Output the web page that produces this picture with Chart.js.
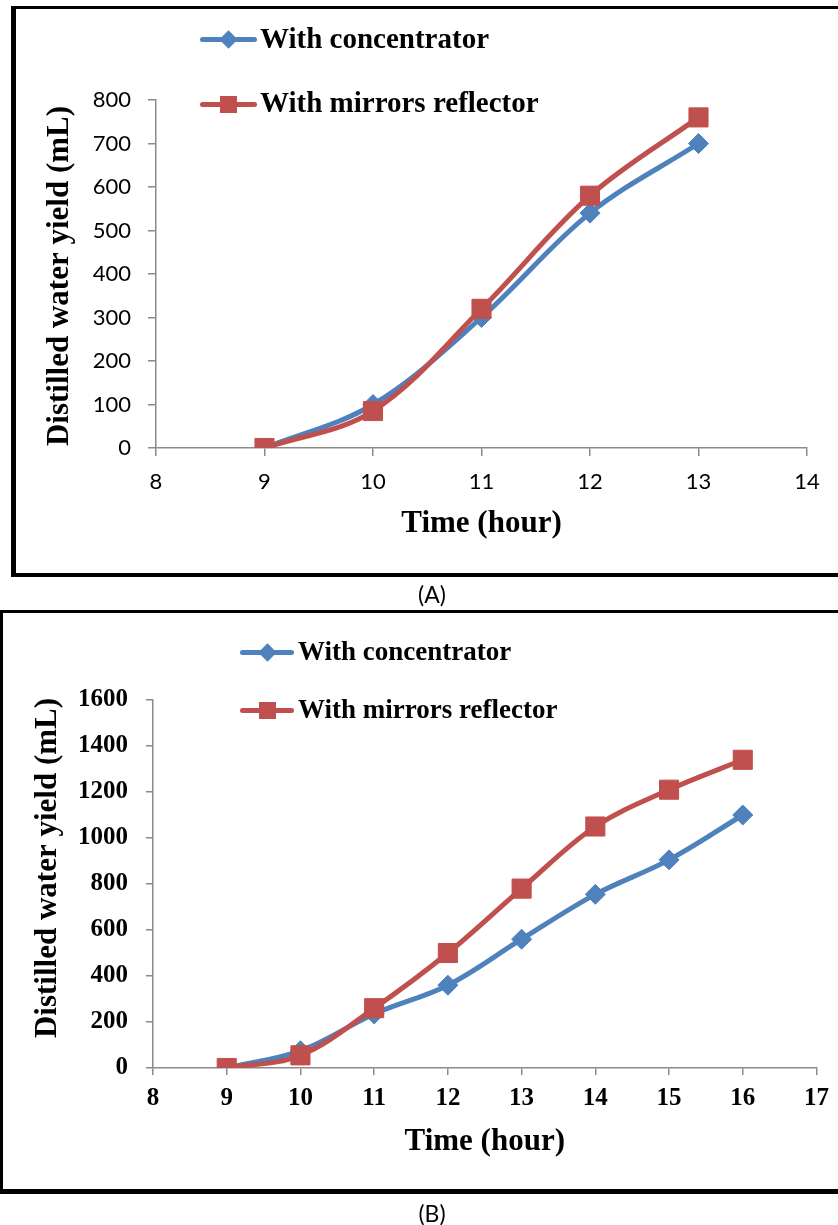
<!DOCTYPE html>
<html><head><meta charset="utf-8">
<script src="https://cdn.jsdelivr.net/npm/chart.js@4.4.1/dist/chart.umd.min.js"></script>
<style>
html,body{margin:0;padding:0;background:#fff;}
body{width:838px;height:1225px;position:relative;overflow:hidden;}
canvas{position:absolute;left:0;}
.box{position:absolute;border-style:solid;border-color:#000;box-sizing:border-box;}
.lg-line{position:absolute;height:5px;border-radius:2.5px;}
.lg-mk{position:absolute;}
.lg-tx{position:absolute;font-family:"Liberation Serif";font-weight:bold;white-space:nowrap;color:#000;}
.cap{position:absolute;font-family:Lato;font-size:23px;line-height:23px;width:100px;text-align:center;color:#000;}
</style></head><body>
<div class="box" style="left:11px;top:6px;width:840px;height:571px;border-width:3px 0 4px 5px;"></div>
<div class="box" style="left:0;top:610px;width:850px;height:584px;border-width:3px 0 5px 3px;"></div>
<canvas id="cA" width="838" height="600" style="top:0"></canvas>
<canvas id="cB" width="838" height="600" style="top:600px"></canvas>
<div class="cap" style="left:382px;top:583px;">(A)</div>
<div class="cap" style="left:382px;top:1202px;">(B)</div>
<div id="legends"></div>
<script>
// ---- data ----
const seriesNames = ['With concentrator', 'With mirrors reflector'];
const xTitle = 'Time (hour)';
const yTitle = 'Distilled water yield (mL)';

const hoursA = [9, 10, 11, 12, 13];
const concentratorA = [0, 100, 300, 540, 700];
const mirrorsA = [0, 85, 320, 580, 760];
const xTicksA = [8, 9, 10, 11, 12, 13, 14];
const yTicksA = [0, 100, 200, 300, 400, 500, 600, 700, 800];

const hoursB = [9, 10, 11, 12, 13, 14, 15, 16];
const concentratorB = [0, 75, 235, 360, 560, 755, 905, 1100];
const mirrorsB = [0, 55, 260, 500, 780, 1050, 1210, 1340];
const xTicksB = [8, 9, 10, 11, 12, 13, 14, 15, 16, 17];
const yTicksB = [0, 200, 400, 600, 800, 1000, 1200, 1400, 1600];

// ---- styling ----
const BLUE = '#4F81BD', RED = '#C0504D', AXIS = '#8a8a8a';

const yTitlePlugin = {
  id: 'yTitleText',
  afterDraw(chart, args, o) {
    const ctx = chart.ctx;
    ctx.save();
    ctx.translate(o.x, o.y);
    ctx.rotate(-Math.PI / 2);
    ctx.font = o.font;
    ctx.fillStyle = '#000';
    ctx.textAlign = 'center';
    ctx.textBaseline = 'middle';
    ctx.fillText(o.text, 0, 0);
    ctx.restore();
  }
};

function pts(xs, ys) { return xs.map((x, i) => ({x: x, y: ys[i]})); }

function makeChart(id, d) {
  return new Chart(document.getElementById(id), {
    type: 'line',
    data: {
      datasets: [
        {label: seriesNames[0], data: pts(d.hours, d.conc), borderColor: BLUE, backgroundColor: BLUE,
         borderWidth: 5, pointStyle: 'rectRot', pointRadius: 10, pointBorderWidth: 1, pointBorderColor: BLUE,
         tension: 0.35, order: 2},
        {label: seriesNames[1], data: pts(d.hours, d.mirr), borderColor: RED, backgroundColor: RED,
         borderWidth: 5, pointStyle: 'rect', pointRadius: 13.5, pointBorderWidth: 1, pointBorderColor: RED,
         tension: 0.35, order: 1}
      ]
    },
    plugins: [yTitlePlugin],
    options: {
      responsive: false, animation: false, devicePixelRatio: 1,
      layout: {padding: {left: 0, right: d.padRight, top: 100, bottom: 0}},
      plugins: {
        legend: {display: false}, tooltip: {enabled: false},
        yTitleText: {text: yTitle, x: d.yTitleX, y: d.yTitleY, font: 'bold 31px "Liberation Serif"'}
      },
      scales: {
        x: {
          type: 'linear', min: d.xTicks[0], max: d.xTicks[d.xTicks.length - 1],
          afterBuildTicks: s => { s.ticks = d.xTicks.map(v => ({value: v})); },
          afterFit: s => { s.height = d.xHeight; },
          grid: {drawOnChartArea: false, tickLength: d.tickLen, color: AXIS, lineWidth: 1.5},
          border: {color: AXIS, width: 1.5},
          ticks: {font: d.tickFont, color: '#000', padding: d.xTickPad, maxRotation: 0, autoSkip: false,
                  callback: v => String(v)},
          title: {display: true, text: xTitle, color: '#000',
                  font: {family: 'Liberation Serif', weight: 'bold', size: 31},
                  padding: {top: 0, bottom: d.xTitlePad}}
        },
        y: {
          min: d.yTicks[0], max: d.yTicks[d.yTicks.length - 1],
          afterBuildTicks: s => { s.ticks = d.yTicks.map(v => ({value: v})); },
          afterFit: s => { s.width = d.yWidth; },
          grid: {drawOnChartArea: false, tickLength: d.tickLen, color: AXIS, lineWidth: 1.5},
          border: {color: AXIS, width: 1.5},
          ticks: {font: d.tickFont, color: '#000', padding: d.yTickPad, callback: v => String(v)}
        }
      }
    }
  });
}

makeChart('cA', {
  hours: hoursA, conc: concentratorA, mirr: mirrorsA, xTicks: xTicksA, yTicks: yTicksA,
  padRight: 31, xHeight: 152, yWidth: 156, tickLen: 8, xTickPad: 13, yTickPad: 17, xTitlePad: 57,
  tickFont: {family: 'Lato', size: 22}, yTitleX: 60, yTitleY: 276
});
makeChart('cB', {
  hours: hoursB, conc: concentratorB, mirr: mirrorsB, xTicks: xTicksB, yTicks: yTicksB,
  padRight: 17, xHeight: 132, yWidth: 153, tickLen: 7, xTickPad: 9, yTickPad: 18, xTitlePad: 39,
  tickFont: {family: 'Liberation Serif', weight: 'bold', size: 25}, yTitleX: 48, yTitleY: 268
});

// ---- legends (HTML) ----
const legendSpecs = [
  {lineX: 200, lineW: 57, mkX: 228, textX: 260, fs: 29, rows: [39, 104], baselines: [48.6, 112.6]},
  {lineX: 240, lineW: 54, mkX: 267, textX: 298, fs: 27, rows: [652, 710], baselines: [661, 719]}
];
const host = document.getElementById('legends');
legendSpecs.forEach(sp => {
  seriesNames.forEach((name, i) => {
    const col = i === 0 ? BLUE : RED;
    const cy = sp.rows[i];
    const ln = document.createElement('div');
    ln.className = 'lg-line';
    ln.style.cssText = `left:${sp.lineX}px;top:${cy - 2.5}px;width:${sp.lineW}px;background:${col};`;
    host.appendChild(ln);
    const mk = document.createElement('div');
    mk.className = 'lg-mk';
    if (i === 0) {
      const s = 13;
      mk.style.cssText = `left:${sp.mkX - s / 2}px;top:${cy - s / 2}px;width:${s}px;height:${s}px;background:${col};transform:rotate(45deg);`;
    } else {
      const s = 17;
      mk.style.cssText = `left:${sp.mkX - s / 2}px;top:${cy - s / 2}px;width:${s}px;height:${s}px;background:${col};`;
    }
    host.appendChild(mk);
    const tx = document.createElement('div');
    tx.className = 'lg-tx';
    tx.textContent = name;
    tx.style.cssText = `left:${sp.textX}px;top:${sp.baselines[i] - 0.8375 * sp.fs}px;font-size:${sp.fs}px;line-height:${sp.fs}px;`;
    host.appendChild(tx);
  });
});
</script>
</body></html>
